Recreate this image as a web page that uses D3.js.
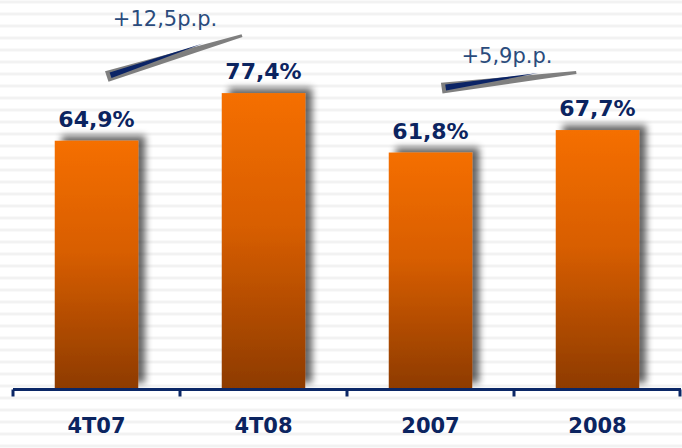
<!DOCTYPE html>
<html>
<head>
<meta charset="utf-8">
<script src="https://cdn.jsdelivr.net/npm/d3@7"></script>
<style>
  html, body { margin: 0; padding: 0; background: #ffffff; }
  svg { display: block; }
</style>
</head>
<body>
<script>
// ---- data ----
const categories = ["4T07", "4T08", "2007", "2008"];
const values = [64.9, 77.4, 61.8, 67.7];
const valueLabels = ["64,9%", "77,4%", "61,8%", "67,7%"];
const changePairs = [[0, 1], [2, 3]];
const changeLabels = ["+12,5p.p.", "+5,9p.p."];

const W = 682, H = 448;
const svg = d3.select("body").append("svg").attr("width", W).attr("height", H);
const defs = svg.append("defs");

// striped background
const pat = defs.append("pattern").attr("id", "stripes").attr("patternUnits", "userSpaceOnUse")
  .attr("width", 12).attr("height", 12);
pat.append("rect").attr("width", 12).attr("height", 12).attr("fill", "#ffffff");
pat.append("rect").attr("y", 0).attr("width", 12).attr("height", 1).attr("fill", "#f9f9f9");
pat.append("rect").attr("y", 1).attr("width", 12).attr("height", 2).attr("fill", "#f2f2f2");
pat.append("rect").attr("y", 3).attr("width", 12).attr("height", 1).attr("fill", "#f9f9f9");
svg.append("rect").attr("width", W).attr("height", H).attr("fill", "url(#stripes)");

// bar gradient
const grad = defs.append("linearGradient").attr("id", "barGrad")
  .attr("x1", 0).attr("y1", 0).attr("x2", 0).attr("y2", 1);
grad.append("stop").attr("offset", "0%").attr("stop-color", "#F56F00");
grad.append("stop").attr("offset", "45%").attr("stop-color", "#D85E00");
grad.append("stop").attr("offset", "100%").attr("stop-color", "#8E3B00");

// shadow filter
const f = defs.append("filter").attr("id", "shadow")
  .attr("x", "-30%").attr("y", "-30%").attr("width", "160%").attr("height", "160%");
f.append("feOffset").attr("in", "SourceAlpha").attr("dx", 7).attr("dy", -5).attr("result", "off");
f.append("feGaussianBlur").attr("in", "off").attr("stdDeviation", 3.5).attr("result", "blur");
f.append("feComponentTransfer").attr("in", "blur").attr("result", "sh")
  .append("feFuncA").attr("type", "linear").attr("slope", 0.6);
const fm = f.append("feMerge");
fm.append("feMergeNode").attr("in", "sh");
fm.append("feMergeNode").attr("in", "SourceGraphic");

// scales
const x = d3.scaleBand().domain(categories).range([13, 681]).paddingInner(0).paddingOuter(0);
const y = d3.scaleLinear().domain([0, 100]).range([388, 7]);
const barW = x.bandwidth() * 0.5;
const cx = i => x(categories[i]) + x.bandwidth() / 2;

// bars
svg.append("g").selectAll("rect").data(values).join("rect")
  .attr("x", (d, i) => cx(i) - barW / 2)
  .attr("y", d => y(d))
  .attr("width", barW)
  .attr("height", d => y(0) - y(d))
  .attr("fill", "url(#barGrad)")
  .attr("filter", "url(#shadow)");

// value labels
svg.append("g").selectAll("text").data(values).join("text")
  .attr("x", (d, i) => cx(i))
  .attr("y", d => y(d) - 14)
  .attr("text-anchor", "middle")
  .attr("font-family", "DejaVu Sans, Verdana, sans-serif")
  .attr("font-weight", "bold")
  .attr("font-size", 22)
  .attr("fill", "#0B2460")
  .text((d, i) => valueLabels[i]);

// axis
const axisG = svg.append("g").attr("transform", `translate(0,${y(0) + 1.5})`);
const axis = d3.axisBottom(x).tickSize(0).tickPadding(0);
axisG.call(axis);
axisG.select(".domain").remove();
axisG.selectAll(".tick text").remove();
axisG.append("line").attr("x1", 13).attr("x2", 681).attr("stroke", "#0B2766").attr("stroke-width", 3);
const bounds = categories.map(c => x(c)).concat([x.range()[1]]);
axisG.selectAll("line.tk").data(bounds).join("line").attr("class", "tk")
  .attr("x1", d => Math.min(d, 680)).attr("x2", d => Math.min(d, 680))
  .attr("y1", 0).attr("y2", 7)
  .attr("stroke", "#0B2766").attr("stroke-width", 3);

// category labels
svg.append("g").selectAll("text").data(categories).join("text")
  .attr("x", (d, i) => cx(i))
  .attr("y", 433)
  .attr("text-anchor", "middle")
  .attr("font-family", "DejaVu Sans, Verdana, sans-serif")
  .attr("font-weight", "bold")
  .attr("font-size", 21)
  .attr("fill", "#0B2460")
  .text(d => d);

// change annotations (wedge arrows)
changePairs.forEach((p, k) => {
  const [a, b] = p;
  const x0 = cx(a) + 12, y0 = y(values[a]) - 59;
  const x1 = cx(b) - 21, y1 = y(values[b]) - 56;
  const dx = x1 - x0, dy = y1 - y0, L = Math.hypot(dx, dy);
  const ux = dx / L, uy = dy / L;
  const nx = uy, ny = -ux; // perpendicular pointing up
  const thick = 11, tipT = 3;
  const grey = [
    [x0, y0],
    [x0 + nx * thick, y0 + ny * thick],
    [x1 + nx * tipT, y1 + ny * tipT],
    [x1, y1]
  ];
  svg.append("polygon")
    .attr("points", grey.map(q => q.join(",")).join(" "))
    .attr("fill", "#7f7f7f");
  const ix0 = x0 + ux * 4 + nx * 2.5, iy0 = y0 + uy * 4 + ny * 2.5;
  const inner = [
    [ix0, iy0],
    [ix0 + nx * 6, iy0 + ny * 6],
    [x0 + ux * L * 0.72 + nx * 6.5, y0 + uy * L * 0.72 + ny * 6.5]
  ];
  svg.append("polygon")
    .attr("points", inner.map(q => q.join(",")).join(" "))
    .attr("fill", "#0B2466");
  const mid = (cx(a) + cx(b)) / 2;
  svg.append("text")
    .attr("x", mid - (k === 0 ? 15 : 7))
    .attr("y", Math.min(y0, y1) - 11)
    .attr("text-anchor", "middle")
    .attr("font-family", "DejaVu Sans, Verdana, sans-serif")
    .attr("font-size", 21)
    .attr("fill", "#2A4B7C")
    .text(changeLabels[k]);
});
</script>
</body>
</html>
